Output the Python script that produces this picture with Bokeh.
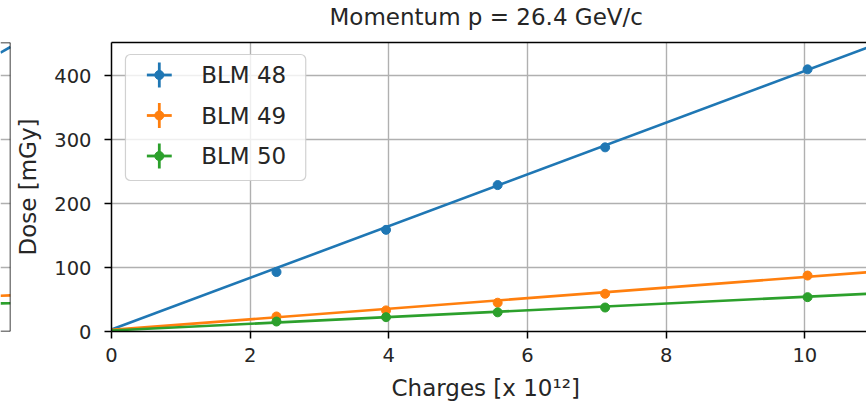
from bokeh.plotting import figure
from bokeh.models import Range1d, FixedTicker, Title, Span, BoxAnnotation, Label, LinearAxis
from bokeh.layouts import row
from bokeh.embed import file_html
from bokeh.resources import INLINE

# ---------------- data ----------------
charges = [2.38, 3.96, 5.57, 7.12, 10.04]          # x 10^12
blm48 = [93, 159, 229, 288, 410]                   # mGy
blm49 = [23.5, 33, 45, 59, 87.5]
blm50 = [15.6, 22.4, 30, 37.5, 53.7]
series_names = ["BLM 48", "BLM 49", "BLM 50"]
colors = ["#1f77b4", "#ff7f0e", "#2ca02c"]

# linear fit lines
fit_x = [0.0, 11.0]
fit48 = [3, 448]
fit49 = [2.5, 93.5]
fit50 = [1.5, 59.5]

x_ticks = [0, 2, 4, 6, 8, 10]
y_ticks = [0, 100, 200, 300, 400]

# neighbouring panel on the left (only its right edge is visible)
prev_x = [0.0, 1.0]
prev48 = [436, 445]
prev49 = [56, 56.5]
prev50 = [44, 44.3]

title_text = "Momentum p = 26.4 GeV/c"
xlabel = "Charges [x 10\u00b9\u00b2]"
ylabel = "Dose [mGy]"

FONT = "DejaVu Sans"
TXT = "#262626"
X0, X1 = 0, 10.89
Y0, Y1 = 0, 452

# ---------------- left sliver (previous subplot) ----------------
pl = figure(width=12, height=409, x_range=Range1d(0, 1), y_range=Range1d(Y0, Y1),
            min_border_left=0, min_border_right=2, min_border_top=42, min_border_bottom=78,
            x_axis_location=None, y_axis_location=None,
            toolbar_location=None, output_backend="svg")
pl.outline_line_color = None
pl.xgrid.visible = False
pl.ygrid.ticker = FixedTicker(ticks=y_ticks)
pl.ygrid.grid_line_color = "#b0b0b0"
pl.ygrid.grid_line_width = 1.4
for ys, c in zip([prev48, prev49, prev50], colors):
    pl.line(prev_x, ys, line_color=c, line_width=2.6)
pl.add_layout(Span(location=Y1, dimension="width", line_color="black", line_width=1.5))
pl.add_layout(Span(location=Y0, dimension="width", line_color="black", line_width=1.5))
pl.add_layout(Span(location=1, dimension="height", line_color="black", line_width=1.5))

# ---------------- main plot ----------------
p = figure(width=854, height=409, x_range=Range1d(X0, X1), y_range=Range1d(Y0, Y1),
           min_border_left=96, min_border_right=0, min_border_top=42, min_border_bottom=78,
           toolbar_location=None, output_backend="svg")
p.outline_line_color = None

xa = p.xaxis[0]
ya = p.yaxis[0]
xg = p.xgrid[0]
yg = p.ygrid[0]

for ax in (xa, ya):
    ax.axis_line_color = "black"
    ax.axis_line_width = 1.5
    ax.major_tick_line_color = "black"
    ax.major_tick_line_width = 1.5
    ax.major_tick_out = 7
    ax.major_tick_in = 0
    ax.minor_tick_line_color = None
    ax.major_label_text_font = FONT
    ax.major_label_text_font_size = "19.5px"
    ax.major_label_text_color = TXT

xa.ticker = FixedTicker(ticks=x_ticks)
ya.ticker = FixedTicker(ticks=y_ticks)
xg.ticker = FixedTicker(ticks=x_ticks)
yg.ticker = FixedTicker(ticks=y_ticks)
xa.major_label_standoff = 9
ya.major_label_standoff = 13

ya.axis_label = ylabel
ya.axis_label_text_font = FONT
ya.axis_label_text_font_size = "23px"
ya.axis_label_text_font_style = "normal"
ya.axis_label_text_color = TXT
ya.axis_label_standoff = 10

for g in (xg, yg):
    g.grid_line_color = "#b0b0b0"
    g.grid_line_width = 1.4

# top spine as a tick-less axis; its blank label only reserves a little space under the title
top_axis = LinearAxis(ticker=FixedTicker(ticks=[]), major_tick_out=0, major_tick_in=0,
                      major_tick_line_color=None, minor_tick_line_color=None,
                      major_label_standoff=0, axis_line_color="black", axis_line_width=1.5,
                      axis_label="\u00a0", axis_label_text_font_size="8px",
                      axis_label_standoff=0)
p.add_layout(top_axis, "above")

p.title.text = title_text
p.title.align = "left"
p.title.offset = 218
p.title.text_font = FONT
p.title.text_font_size = "23px"
p.title.text_font_style = "normal"
p.title.text_color = TXT
p.title.standoff = 2

p.add_layout(Title(text=xlabel, align="left", offset=280, text_font=FONT,
                   text_font_size="23px", text_font_style="normal",
                   text_color=TXT, standoff=16), "below")

for fy, ys, c in zip([fit48, fit49, fit50], [blm48, blm49, blm50], colors):
    p.line(fit_x, fy, line_color=c, line_width=2.6)
    p.scatter(charges, ys, size=9, fill_color=c, line_color=c)

# ---------------- legend (drawn by hand, positioned in pixels) ----------------
FL, FR, FT, FB = 108, 866, 42, 331
def dx(px):
    return X0 + (px - FL) / (FR - FL) * (X1 - X0)
def dy(py):
    return Y0 + (FB - py) / (FB - FT) * (Y1 - Y0)

p.add_layout(BoxAnnotation(left=dx(122), right=dx(303), top=dy(54), bottom=dy(180),
                           fill_color="white", fill_alpha=0.8, line_color="#cccccc",
                           line_alpha=0.9, line_width=1.2, border_radius=5))
row_y = [74.5, 115, 155.5]
cx = 156
for name, c, ry in zip(series_names, colors, row_y):
    p.segment(x0=[dx(cx - 12.5)], y0=[dy(ry)], x1=[dx(cx + 12.5)], y1=[dy(ry)],
              line_color=c, line_width=2.8, level="overlay")
    p.segment(x0=[dx(cx)], y0=[dy(ry - 12.5)], x1=[dx(cx)], y1=[dy(ry + 12.5)],
              line_color=c, line_width=2.8, level="overlay")
    p.scatter([dx(cx)], [dy(ry)], size=9, fill_color=c, line_color=c, level="overlay")
    p.add_layout(Label(x=dx(198), y=dy(ry), text=name, text_font=FONT,
                       text_font_size="23px", text_color=TXT,
                       text_baseline="middle", text_align="left"))

layout = row(pl, p)
open("out.html", "w").write(file_html(layout, INLINE))
